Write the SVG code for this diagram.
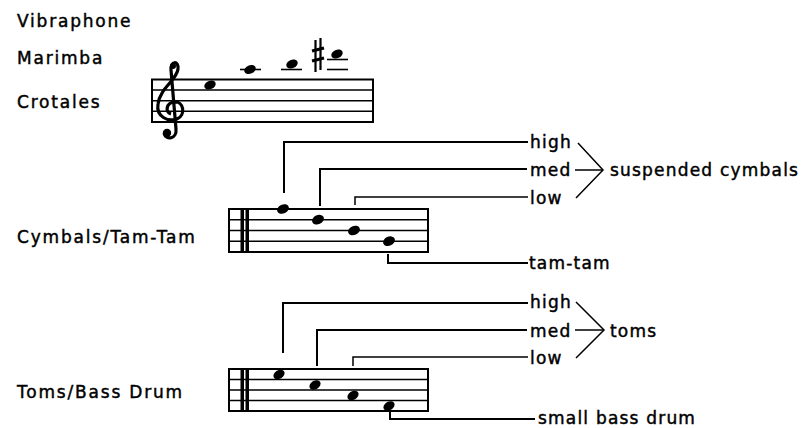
<svg xmlns="http://www.w3.org/2000/svg" width="804" height="428" viewBox="0 0 804 428">
<style>
text{font-family:"DejaVu Sans","Liberation Sans",sans-serif;font-size:17px;letter-spacing:1.2px;fill:#000;stroke:#000;stroke-width:0.45}
.lab{letter-spacing:1.8px}
.box{fill:none;stroke:#000;stroke-width:2}
.sl{stroke:#000;stroke-width:1.6}
.ld{fill:none;stroke:#000;stroke-width:2}
.ldt{fill:none;stroke:#000;stroke-width:1.5}
.note{fill:#000}
</style>
<rect width="804" height="428" fill="#fff"/>

<g id="labels">
<text class="lab" x="17" y="27">Vibraphone</text>
<text class="lab" x="17" y="64">Marimba</text>
<text class="lab" x="17" y="108">Crotales</text>
<text class="lab" x="17" y="243">Cymbals/Tam-Tam</text>
<text class="lab" x="17" y="398">Toms/Bass Drum</text>
</g>

<g id="staff-pitched">
<rect class="box" x="152" y="79.5" width="221" height="42.5"/>
<line class="sl" x1="152" y1="90" x2="373" y2="90"/>
<line class="sl" x1="152" y1="100.7" x2="373" y2="100.7"/>
<line class="sl" x1="152" y1="111.3" x2="373" y2="111.3"/>
<path d="M164 133 C166 141 177 139 176 129 L171 70 C170 61 179 60 178 69 C177 80 160 88 158 104 C156 117 168 122 177 119 C186 115 184 101 174 102 C166 103 165 112 171 114" fill="none" stroke="#000" stroke-width="3.2"/>
<circle cx="167" cy="133" r="4.2"/>
<circle cx="173" cy="66" r="3"/>
<ellipse class="note" cx="210" cy="85" rx="6" ry="4.2" transform="rotate(-25 210 85)"/>
<line class="sl" x1="240" y1="69.5" x2="261" y2="69.5"/>
<ellipse class="note" cx="250" cy="69.5" rx="6" ry="4.2" transform="rotate(-25 250 69.5)"/>
<line class="sl" x1="281" y1="69.5" x2="302" y2="69.5"/>
<ellipse class="note" cx="292" cy="64" rx="6" ry="4.2" transform="rotate(-25 292 64)"/>
<g id="sharp">
<line x1="315.5" y1="40" x2="315.5" y2="72" stroke="#000" stroke-width="2.2"/>
<line x1="320.5" y1="38" x2="320.5" y2="70" stroke="#000" stroke-width="2.2"/>
<line x1="312" y1="51" x2="324" y2="48" stroke="#000" stroke-width="3"/>
<line x1="312" y1="61" x2="324" y2="58" stroke="#000" stroke-width="3"/>
</g>
<line class="sl" x1="327" y1="59.5" x2="348" y2="59.5"/>
<line class="sl" x1="327" y1="69.5" x2="348" y2="69.5"/>
<ellipse class="note" cx="337" cy="54" rx="6" ry="4.2" transform="rotate(-25 337 54)"/>
</g>

<g id="staff-cymbals">
<rect class="box" x="229" y="209" width="199" height="43"/>
<line class="sl" x1="229" y1="219.7" x2="428" y2="219.7"/>
<line class="sl" x1="229" y1="230.5" x2="428" y2="230.5"/>
<line class="sl" x1="229" y1="241.2" x2="428" y2="241.2"/>
<rect x="240.5" y="209" width="3.5" height="43"/>
<rect x="245.5" y="209" width="3.5" height="43"/>
<ellipse class="note" cx="283" cy="209" rx="6.2" ry="4.5" transform="rotate(-25 283 209)"/>
<ellipse class="note" cx="318" cy="219.7" rx="6.2" ry="4.5" transform="rotate(-25 318 219.7)"/>
<ellipse class="note" cx="354" cy="230.5" rx="6.2" ry="4.5" transform="rotate(-25 354 230.5)"/>
<ellipse class="note" cx="389" cy="241.2" rx="6.2" ry="4.5" transform="rotate(-25 389 241.2)"/>
</g>

<g id="staff-toms">
<rect class="box" x="229" y="369" width="199" height="42"/>
<line class="sl" x1="229" y1="379.5" x2="428" y2="379.5"/>
<line class="sl" x1="229" y1="390" x2="428" y2="390"/>
<line class="sl" x1="229" y1="400.5" x2="428" y2="400.5"/>
<rect x="240.5" y="369" width="3.5" height="42"/>
<rect x="245.5" y="369" width="3.5" height="42"/>
<ellipse class="note" cx="279" cy="374.5" rx="6" ry="4.2" transform="rotate(-30 279 374.5)"/>
<ellipse class="note" cx="315" cy="385" rx="6" ry="4.2" transform="rotate(-30 315 385)"/>
<ellipse class="note" cx="353" cy="395.5" rx="6" ry="4.2" transform="rotate(-30 353 395.5)"/>
<ellipse class="note" cx="389" cy="406" rx="6" ry="4.2" transform="rotate(-30 389 406)"/>
</g>

<g id="connectors">
<path class="ld" d="M284 193 V142 H528"/>
<path class="ld" d="M320 206 V169 H527"/>
<path class="ldt" d="M355 205 V197 H528"/>
<path class="ld" d="M388 254 V263 H528"/>
<path class="ldt" d="M578 143 L603 170 L576 198"/>
<path class="ldt" d="M575 170 H603"/>

<path class="ld" d="M283 353 V303 H528"/>
<path class="ld" d="M317 366 V330 H527"/>
<path class="ldt" d="M353 366 V357 H528"/>
<path class="ld" d="M390 410 V419 H535"/>
<path class="ldt" d="M576 302 L604 330 L576 358"/>
<path class="ldt" d="M575 330 H604"/>
</g>

<g id="targets">
<text x="530" y="148">high</text>
<text x="530" y="176">med</text>
<text x="530" y="204">low</text>
<text x="610" y="176">suspended cymbals</text>
<text x="529" y="269">tam-tam</text>
<text x="530" y="308">high</text>
<text x="530" y="337">med</text>
<text x="530" y="364">low</text>
<text x="610" y="337">toms</text>
<text x="538" y="424">small bass drum</text>
</g>
</svg>
